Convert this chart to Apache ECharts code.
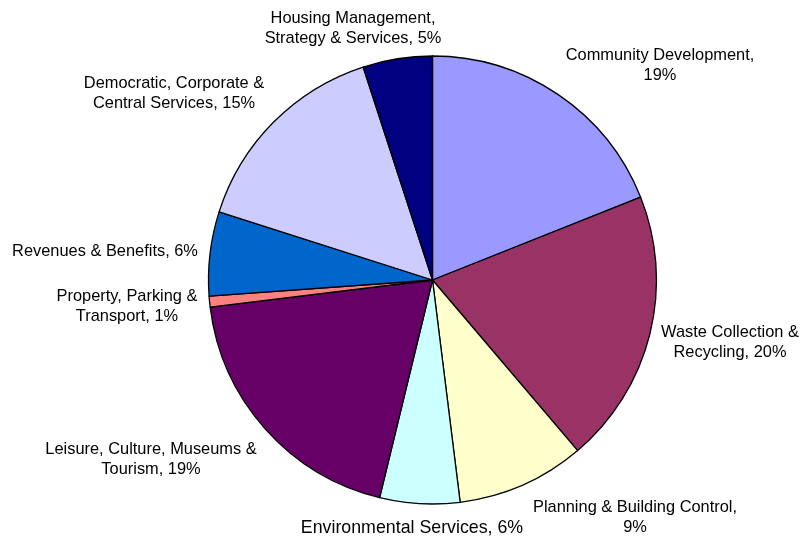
<!DOCTYPE html>
<html>
<head>
<meta charset="utf-8">
<script src="https://cdn.jsdelivr.net/npm/echarts@6/dist/echarts.min.js"></script>
<style>
html,body{margin:0;padding:0;background:#fff;}
#chart{width:805px;height:538px;}
</style>
</head>
<body>
<div id="chart"></div>
<script>
// Categories (clockwise from 12 o'clock)
const categories = [
  'Community Development',
  'Waste Collection & Recycling',
  'Planning & Building Control',
  'Environmental Services',
  'Leisure, Culture, Museums & Tourism',
  'Property, Parking & Transport',
  'Revenues & Benefits',
  'Democratic, Corporate & Central Services',
  'Housing Management, Strategy & Services'
];
// Share of spending (%)
const values = [18.97, 19.80, 9.25, 5.76, 19.28, 0.78, 6.06, 15.07, 5.01];
// Label text templates ({p} = rounded percent)
const labelTemplates = [
  'Community Development,\n{p}%',
  'Waste Collection &\nRecycling, {p}%',
  'Planning & Building Control,\n{p}%',
  'Environmental Services, {p}%',
  'Leisure, Culture, Museums &\nTourism, {p}%',
  'Property, Parking &\nTransport, {p}%',
  'Revenues & Benefits, {p}%',
  'Democratic, Corporate &\nCentral Services, {p}%',
  'Housing Management,\nStrategy & Services, {p}%'
];
// Slice colours
const colors = ['#9999FF','#993366','#FFFFCC','#CCFFFF','#660066','#FF8080','#0066CC','#CCCCFF','#000080'];

// Label layout (anchor points and font sizes) – style only
const labelPos = [
  [660, 65], [730, 342], [635, 517], [412, 528], [151, 459],
  [127, 306], [105, 251], [174, 93], [353, 28]
];
const labelFontSizes = [16.4, 16.4, 16.4, 17.8, 16.4, 16.4, 16.4, 16.4, 16.4];

const chart = echarts.init(document.getElementById('chart'), null, {renderer: 'canvas'});
chart.setOption({
  animation: false,
  backgroundColor: '#ffffff',
  color: colors,
  series: [{
    type: 'pie',
    center: [432.5, 280],
    radius: 224,
    startAngle: 90,
    clockwise: true,
    avoidLabelOverlap: false,
    emphasis: {disabled: true},
    itemStyle: {borderColor: '#000000', borderWidth: 1.3},
    labelLine: {show: false},
    label: {
      show: true,
      position: 'outside',
      fontFamily: 'Liberation Sans, Arial, sans-serif',
      fontSize: 16.4,
      lineHeight: 20,
      color: '#000000',
      align: 'center',
      formatter: function (p) {
        return labelTemplates[p.dataIndex].replace('{p}', Math.round(p.percent));
      }
    },
    labelLayout: function (params) {
      const pos = labelPos[params.dataIndex];
      return {x: pos[0], y: pos[1], align: 'center', verticalAlign: 'middle'};
    },
    data: categories.map((c, i) => ({
      name: c,
      value: values[i],
      label: {fontSize: labelFontSizes[i]}
    }))
  }]
});
</script>
</body>
</html>
